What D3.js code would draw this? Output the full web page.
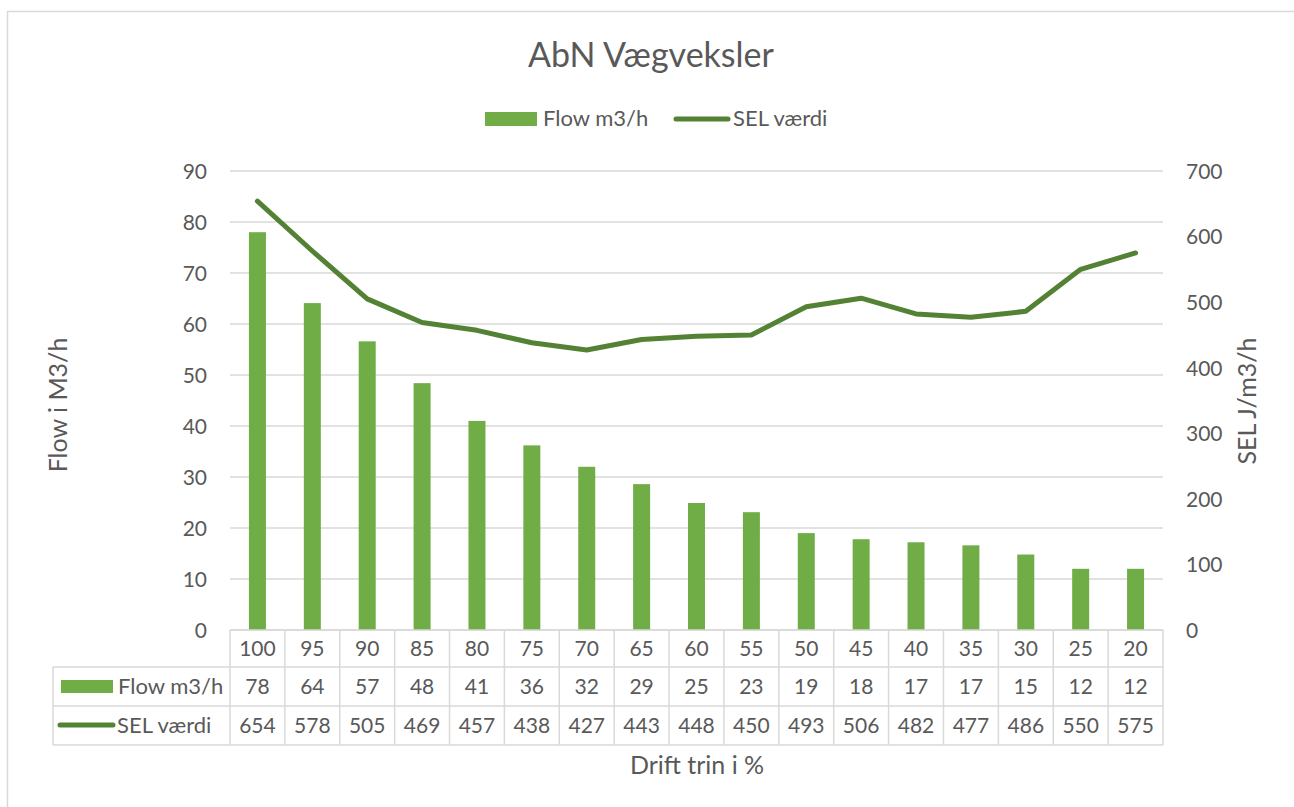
<!DOCTYPE html>
<html>
<head>
<meta charset="utf-8">
<script src="https://cdn.jsdelivr.net/npm/d3@7"></script>
<style>
  body { margin: 0; background: #fff; }
  svg text { font-family: Lato, "Open Sans", sans-serif; fill: #595959; }
</style>
</head>
<body>
<svg width="1294" height="807"></svg>
<script>
// drift steps (%) and the two series
const steps = [100, 95, 90, 85, 80, 75, 70, 65, 60, 55, 50, 45, 40, 35, 30, 25, 20];
const flow = [78, 64.1, 56.6, 48.4, 41, 36.2, 32, 28.6, 24.9, 23.1, 19, 17.8, 17.2, 16.6, 14.8, 12, 12];
const sel = [654, 578, 505, 469, 457, 438, 427, 443, 448, 450, 493, 506, 482, 477, 486, 550, 575];
const leftTicks = [0, 10, 20, 30, 40, 50, 60, 70, 80, 90];
const rightTicks = [0, 100, 200, 300, 400, 500, 600, 700];

const barColor = "#70ad47";
const lineColor = "#548235";
const gridColor = "#d9d9d9";
const tickSize = 21;
const labelSize = 22;
const axisTitleSize = 25;

let svg = d3.select("svg");

// outer chart border
svg.append("rect")
    .attr("x", 7.5).attr("y", 11.5)
    .attr("width", 1300).attr("height", 810)
    .attr("fill", "none").attr("stroke", gridColor).attr("stroke-width", 1.5);

let plot = {left: 230, right: 1163, top: 171, bottom: 630};

let x = d3.scaleBand().domain(steps).range([plot.left, plot.right]);
let yL = d3.scaleLinear().domain([0, 90]).range([plot.bottom, plot.top]);
let yR = d3.scaleLinear().domain([0, 700]).range([plot.bottom, plot.top]);

// gridlines
svg.append("g").selectAll("line")
    .data(leftTicks)
    .enter().append("line")
    .attr("x1", plot.left).attr("x2", plot.right)
    .attr("y1", d => yL(d)).attr("y2", d => yL(d))
    .attr("stroke", gridColor).attr("stroke-width", 1.3);

// left axis
let leftAxis = svg.append("g")
    .attr("transform", `translate(${plot.left - 23},0)`)
    .call(d3.axisLeft(yL).tickValues(leftTicks).tickSize(0).tickPadding(0));
leftAxis.select(".domain").remove();
leftAxis.selectAll("text").attr("font-size", tickSize).attr("fill", "#595959").attr("dy", "0.35em");

// right axis
let rightAxis = svg.append("g")
    .attr("transform", `translate(${plot.right + 23},0)`)
    .call(d3.axisRight(yR).tickValues(rightTicks).tickSize(0).tickPadding(0));
rightAxis.select(".domain").remove();
rightAxis.selectAll("text").attr("font-size", tickSize).attr("fill", "#595959").attr("dy", "0.35em");

// bars
let barW = 17;
svg.append("g").selectAll("rect")
    .data(steps)
    .enter().append("rect")
    .attr("x", d => x(d) + x.bandwidth() / 2 - barW / 2)
    .attr("y", (d, i) => yL(flow[i]))
    .attr("width", barW)
    .attr("height", (d, i) => plot.bottom - yL(flow[i]))
    .attr("fill", barColor);

// SEL line
let line = d3.line()
    .x((d, i) => x(steps[i]) + x.bandwidth() / 2)
    .y(d => yR(d));
svg.append("path")
    .datum(sel)
    .attr("d", line)
    .attr("fill", "none")
    .attr("stroke", lineColor)
    .attr("stroke-width", 5)
    .attr("stroke-linejoin", "round")
    .attr("stroke-linecap", "round");

// data table
let rows = {top: 630, r1: 667, r2: 706, bottom: 745};
let keyLeft = 53;
let tbl = svg.append("g").attr("stroke", gridColor).attr("stroke-width", 1.5);
tbl.append("line").attr("x1", plot.left).attr("x2", plot.right).attr("y1", rows.top).attr("y2", rows.top);
[rows.r1, rows.r2, rows.bottom].forEach(yy => {
    tbl.append("line").attr("x1", keyLeft).attr("x2", plot.right).attr("y1", yy).attr("y2", yy);
});
tbl.append("line").attr("x1", keyLeft).attr("x2", keyLeft).attr("y1", rows.r1).attr("y2", rows.bottom);
tbl.selectAll("line.v")
    .data(steps.map(d => x(d)).concat([plot.right]))
    .enter().append("line")
    .attr("class", "v")
    .attr("x1", d => d).attr("x2", d => d)
    .attr("y1", rows.top).attr("y2", rows.bottom);

let cell = svg.append("g").attr("font-size", tickSize).attr("text-anchor", "middle");
cell.selectAll("text.h")
    .data(steps).enter().append("text")
    .attr("x", d => x(d) + x.bandwidth() / 2)
    .attr("y", (rows.top + rows.r1) / 2).attr("dy", "0.35em")
    .text(d => d);
cell.selectAll("text.f")
    .data(flow).enter().append("text")
    .attr("x", (d, i) => x(steps[i]) + x.bandwidth() / 2)
    .attr("y", (rows.r1 + rows.r2) / 2).attr("dy", "0.35em")
    .text(d => Math.round(d));
cell.selectAll("text.s")
    .data(sel).enter().append("text")
    .attr("x", (d, i) => x(steps[i]) + x.bandwidth() / 2)
    .attr("y", (rows.r2 + rows.bottom) / 2).attr("dy", "0.35em")
    .text(d => d);

// table keys
svg.append("rect").attr("x", 61).attr("y", 680).attr("width", 52).attr("height", 13).attr("fill", barColor);
svg.append("text").attr("x", 118).attr("y", (rows.r1 + rows.r2) / 2).attr("dy", "0.35em")
    .attr("font-size", labelSize).text("Flow m3/h");
svg.append("line").attr("x1", 60).attr("x2", 113).attr("y1", 725).attr("y2", 725)
    .attr("stroke", lineColor).attr("stroke-width", 5).attr("stroke-linecap", "round");
svg.append("text").attr("x", 117).attr("y", (rows.r2 + rows.bottom) / 2).attr("dy", "0.35em")
    .attr("font-size", labelSize).text("SEL værdi");

// title
svg.append("text").attr("x", 651).attr("y", 67)
    .attr("text-anchor", "middle").attr("font-size", 34).text("AbN Vægveksler");

// legend
svg.append("rect").attr("x", 485).attr("y", 112).attr("width", 52).attr("height", 14).attr("fill", barColor);
svg.append("text").attr("x", 543).attr("y", 126).attr("font-size", labelSize).text("Flow m3/h");
svg.append("line").attr("x1", 676).attr("x2", 728).attr("y1", 119).attr("y2", 119)
    .attr("stroke", lineColor).attr("stroke-width", 5).attr("stroke-linecap", "round");
svg.append("text").attr("x", 733).attr("y", 126).attr("font-size", labelSize).text("SEL værdi");

// axis titles
svg.append("text")
    .attr("transform", "translate(67,405) rotate(-90)")
    .attr("text-anchor", "middle").attr("font-size", axisTitleSize)
    .text("Flow i M3/h");
svg.append("text")
    .attr("transform", "translate(1256,401) rotate(-90)")
    .attr("text-anchor", "middle").attr("font-size", axisTitleSize)
    .text("SEL J/m3/h");
svg.append("text")
    .attr("x", 697).attr("y", 774)
    .attr("text-anchor", "middle").attr("font-size", axisTitleSize)
    .text("Drift trin i %");
</script>
</body>
</html>
